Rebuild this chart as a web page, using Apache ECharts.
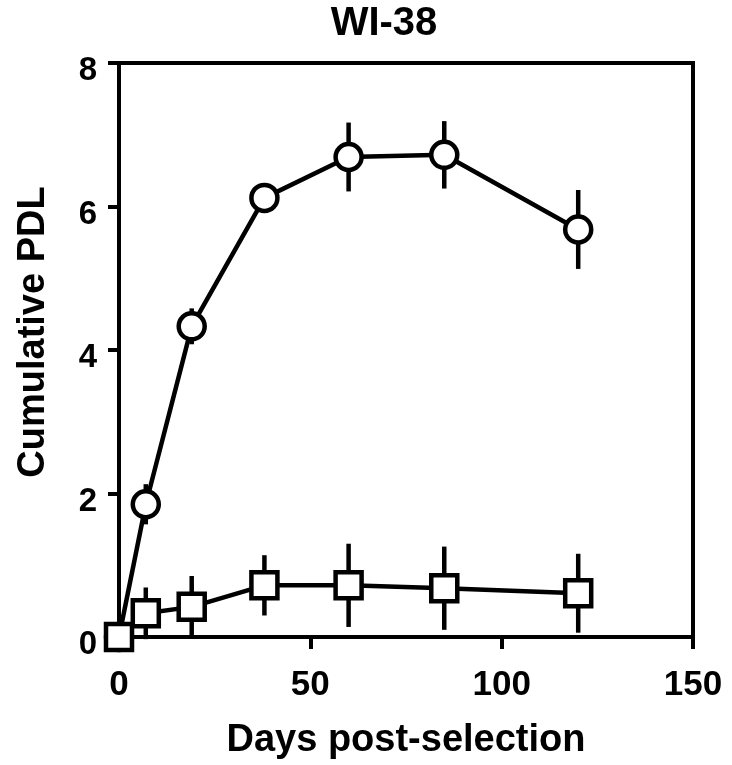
<!DOCTYPE html>
<html>
<head>
<meta charset="utf-8">
<script src="https://cdn.jsdelivr.net/npm/echarts@6/dist/echarts.min.js"></script>
<style>
html,body{margin:0;padding:0;background:#fff;}
#c{width:732px;height:765px;}
</style>
</head>
<body>
<div id="c"></div>
<script>
// Data
const days = [0, 7, 19, 38, 60, 85, 120];
const circleMean = [0, 1.85, 4.33, 6.12, 6.69, 6.72, 5.68];
const circleErr  = [0, 0.28, 0.25, 0.1, 0.48, 0.47, 0.55];
const squareMean = [0, 0.33, 0.42, 0.72, 0.72, 0.68, 0.61];
const squareErr  = [0, 0.36, 0.43, 0.42, 0.58, 0.58, 0.55];
const xTicks = [0, 50, 100, 150];
const yTicks = [0, 2, 4, 6, 8];

const FONT = 'Liberation Sans, Arial, sans-serif';

function pairs(xs, ys){ return xs.map((x,i)=>[x, ys[i]]); }
function errData(xs, m, e){ return xs.map((x,i)=>[x, m[i]-e[i], m[i]+e[i]]).filter((d,i)=>e[i]>0); }

function errRender(params, api){
  const x = api.value(0);
  const p1 = api.coord([x, api.value(1)]);
  const p2 = api.coord([x, api.value(2)]);
  return {
    type: 'line',
    shape: {x1: p1[0], y1: p1[1], x2: p2[0], y2: p2[1]},
    style: {stroke: '#000', lineWidth: 4.5}
  };
}

const chart = echarts.init(document.getElementById('c'), null, {renderer: 'canvas'});
chart.setOption({
  animation: false,
  backgroundColor: '#fff',
  title: {
    text: 'WI-38',
    left: 384, textAlign: 'center',
    top: 4, padding: 0,
    textStyle: {fontFamily: FONT, fontWeight: 'bold', fontSize: 40, color: '#000'}
  },
  grid: {
    left: 119, right: 39, top: 63, bottom: 127,
    show: true, borderColor: '#000', borderWidth: 4, backgroundColor: 'transparent'
  },
  xAxis: {
    type: 'value', min: xTicks[0], max: xTicks[xTicks.length-1], interval: 50,
    name: 'Days post-selection', nameLocation: 'middle', nameGap: 85,
    nameTextStyle: {fontFamily: FONT, fontWeight: 'bold', fontSize: 38, color: '#000'},
    axisLine: {show: true, lineStyle: {color: '#000', width: 4}},
    axisTick: {show: true, length: 12, lineStyle: {color: '#000', width: 4}},
    axisLabel: {fontFamily: FONT, fontWeight: 'bold', fontSize: 35, color: '#000', margin: 31},
    splitLine: {show: false}
  },
  yAxis: {
    type: 'value', min: yTicks[0], max: yTicks[yTicks.length-1], interval: 2,
    name: 'Cumulative PDL', nameLocation: 'middle', nameGap: 66, nameRotate: 90,
    nameTextStyle: {fontFamily: FONT, fontWeight: 'bold', fontSize: 38, color: '#000', padding: [0, 0, 0, 36]},
    axisLine: {show: true, lineStyle: {color: '#000', width: 4}},
    axisTick: {show: true, length: 11, lineStyle: {color: '#000', width: 4}},
    axisLabel: {
      margin: 22,
      formatter: function(v){ return '{a|' + v + '}'; },
      rich: {a: {fontFamily: FONT, fontWeight: 'bold', fontSize: 33, color: '#000', padding: [16, 0, 0, 0]}}
    },
    splitLine: {show: false}
  },
  series: [
    {type: 'custom', renderItem: errRender, data: errData(days, circleMean, circleErr), z: 1, clip: false},
    {type: 'custom', renderItem: errRender, data: errData(days, squareMean, squareErr), z: 1, clip: false},
    {
      type: 'line', data: pairs(days, circleMean), z: 3, clip: false,
      symbol: 'circle', symbolSize: 26,
      lineStyle: {color: '#000', width: 4.5},
      itemStyle: {color: '#fff', borderColor: '#000', borderWidth: 4.5}
    },
    {
      type: 'line', data: pairs(days, squareMean), z: 4, clip: false,
      symbol: 'rect', symbolSize: 26,
      lineStyle: {color: '#000', width: 4.5},
      itemStyle: {color: '#fff', borderColor: '#000', borderWidth: 4.5}
    }
  ]
});
</script>
</body>
</html>
